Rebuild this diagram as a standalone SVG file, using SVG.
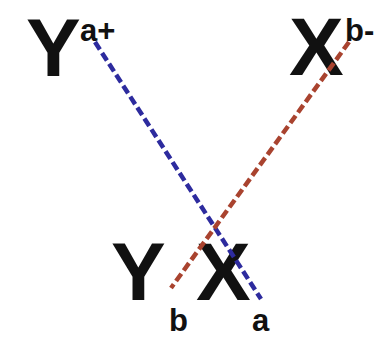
<svg xmlns="http://www.w3.org/2000/svg" width="385" height="337" viewBox="0 0 385 337">
<style>
.big{font-family:"Liberation Sans",Arial,sans-serif;font-weight:bold;font-size:82px;fill:#111}
.sm{font-family:"Liberation Sans",Arial,sans-serif;font-weight:bold;font-size:31px;fill:#111}
.blue{stroke:#2d2b9e;stroke-width:4.5;stroke-dasharray:9 4;fill:none}
.red{stroke:#a9432f;stroke-width:4.5;stroke-dasharray:9 4;fill:none}
</style>
<rect width="385" height="337" fill="#fff"/>
<g id="Ya">
<text class="big" x="26" y="76">Y</text>
<text class="sm" x="80" y="41">a+</text>
</g>
<g id="Xb">
<text class="big" x="289" y="75">X</text>
<text class="sm" x="345" y="41">b-</text>
</g>
<g id="Yb">
<text class="big" x="111" y="300">Y</text>
<text class="sm" x="169" y="331">b</text>
</g>
<g id="Xa">
<text class="big" x="196" y="300">X</text>
<text class="sm" x="252" y="331">a</text>
</g>
<g id="connectors">
<line class="blue" x1="95" y1="42" x2="261" y2="299"/>
<line class="red" x1="349" y1="42" x2="171" y2="288"/>
</g>
</svg>
